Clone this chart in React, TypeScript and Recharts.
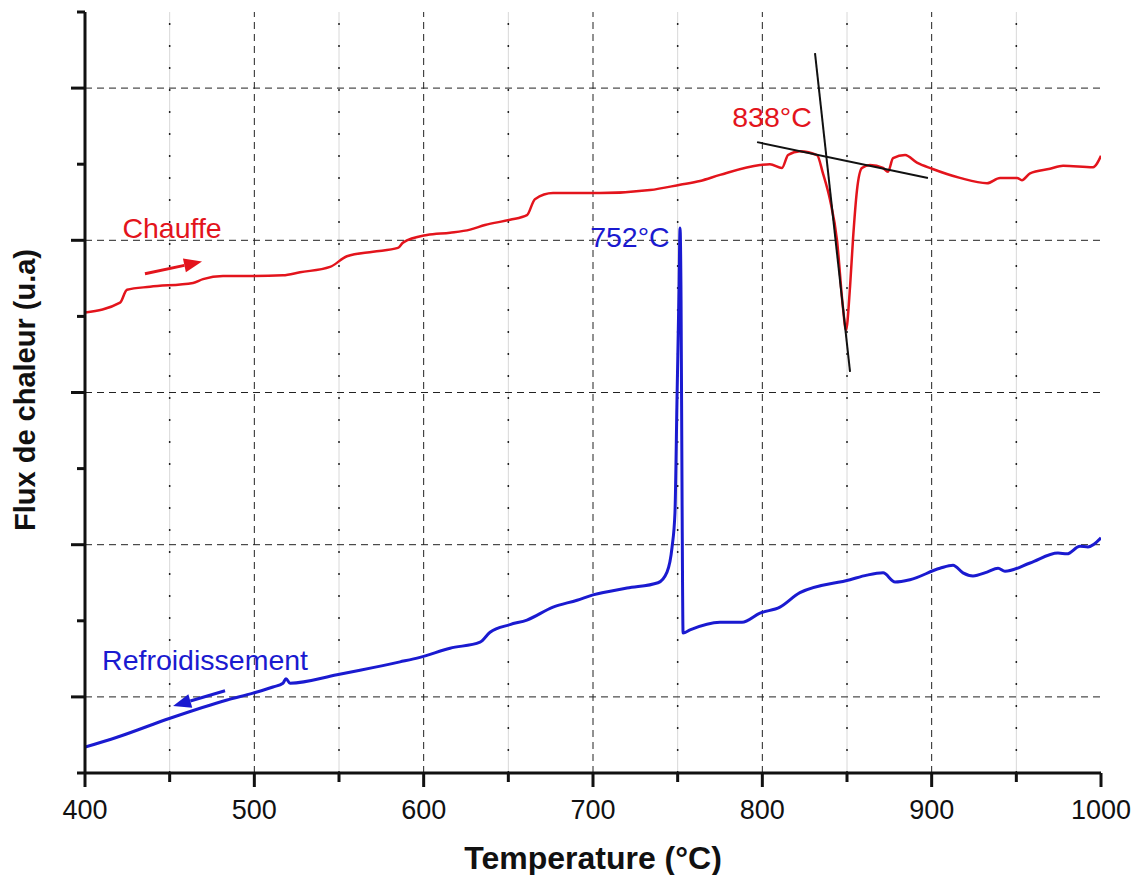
import { LineChart, Line, XAxis, YAxis, ReferenceLine, ReferenceDot } from 'recharts'

// heating run (Chauffe)
const heatT = [400, 420.7, 424.8, 438.4, 463.8, 469.7, 481.5, 497.4, 516.9, 527.0, 544.7, 554.7, 570.1, 584.8, 587.8, 602.0, 615.6, 627.4, 636.2, 651.0, 661.0, 665.7, 676.4, 704.1, 733.7, 751.4, 763.2, 775.0, 798.6, 804.5, 811.6, 815.2, 822.2, 832.3, 835.8, 840.0, 844.1, 847.6, 849.4, 851.8, 853.5, 855.9, 858.8, 863.6, 871.3, 874.2, 877.2, 884.3, 891.3, 900.2, 916.7, 932.7, 940.4, 950.4, 953.3, 958.1, 969.9, 977.6, 995.3, 1000]
const heatFlux = [6.05, 6.18, 6.35, 6.39, 6.44, 6.49, 6.53, 6.53, 6.54, 6.58, 6.65, 6.79, 6.85, 6.9, 6.97, 7.07, 7.1, 7.14, 7.2, 7.27, 7.33, 7.54, 7.62, 7.62, 7.66, 7.73, 7.78, 7.86, 7.99, 8.0, 7.95, 8.12, 8.17, 8.12, 7.88, 7.53, 7.0, 6.12, 5.82, 6.39, 7.0, 7.66, 7.95, 7.99, 7.95, 7.9, 8.08, 8.12, 8.02, 7.94, 7.82, 7.75, 7.82, 7.82, 7.79, 7.88, 7.94, 7.98, 7.96, 8.11]

// cooling run (Refroidissement)
const coolT = [400, 418.9, 450.2, 483.9, 499.2, 511.0, 516.9, 518.7, 521.1, 548.8, 562.4, 586.0, 597.8, 615.6, 633.3, 639.2, 651.0, 661.0, 676.4, 690.6, 700.0, 720.1, 738.4, 743.7, 746.7, 748.4, 749.6, 750.8, 751.4, 752.0, 752.6, 753.2, 757.3, 775.0, 788.0, 798.6, 810.4, 822.2, 851.8, 861.8, 871.3, 878.4, 887.2, 904.9, 912.6, 918.5, 924.4, 932.7, 939.2, 943.3, 958.1, 974.6, 979.9, 987.6, 992.3, 1000]
const coolFlux = [0.34, 0.47, 0.72, 0.96, 1.05, 1.13, 1.18, 1.24, 1.18, 1.29, 1.35, 1.46, 1.52, 1.64, 1.72, 1.85, 1.95, 2.01, 2.18, 2.27, 2.34, 2.43, 2.5, 2.64, 2.97, 3.42, 4.9, 6.35, 7.16, 6.22, 3.59, 1.84, 1.88, 1.98, 1.98, 2.1, 2.18, 2.37, 2.54, 2.6, 2.63, 2.51, 2.54, 2.69, 2.73, 2.63, 2.59, 2.64, 2.69, 2.65, 2.76, 2.89, 2.88, 2.98, 2.97, 3.09]

// onset construction at 838 °C
const tangentSteep = [{ x: 831.1, y: 9.46 }, { x: 851.8, y: 5.27 }]
const tangentBase = [{ x: 796.9, y: 8.29 }, { x: 897.8, y: 7.82 }]

const heatArrow = [{ x: 435.4, y: 6.56 }, { x: 469.1, y: 6.72 }]
const coolArrow = [{ x: 482.7, y: 1.08 }, { x: 452.0, y: 0.88 }]

const notes = [
  { x: 451.4, y: 7.03, text: 'Chauffe', color: '#e3141c' },
  { x: 805.7, y: 8.49, text: '838°C', color: '#e3141c' },
  { x: 721.8, y: 6.91, text: '752°C', color: '#1a1ad0' },
  { x: 470.9, y: 1.35, text: 'Refroidissement', color: '#1a1ad0' },
]

const xTicks = [400, 450, 500, 550, 600, 650, 700, 750, 800, 850, 900, 950, 1000]
const yTicks = [0, 1, 2, 3, 4, 5, 6, 7, 8, 9, 10]
const majorX = [500, 600, 700, 800, 900]
const minorX = [450, 550, 650, 750, 850, 950]
const majorY = [1, 3, 5, 7, 9]

const heating = heatT.map((t, i) => ({ t, v: heatFlux[i] }))
const cooling = coolT.map((t, i) => ({ t, v: coolFlux[i] }))

const RED = '#e3141c'
const BLUE = '#1a1ad0'
const FONT = '"Liberation Sans", Arial, sans-serif'

function XTick(props: any) {
  const { x, y, payload } = props
  const major = payload.value % 100 === 0
  return (
    <g>
      <line x1={x} y1={y} x2={x} y2={y + (major ? 14 : 9)} stroke="#111" strokeWidth={3} />
      {major && (
        <text x={x} y={y + 46} textAnchor="middle" fontSize={27} fill="#111" fontFamily={FONT}>
          {payload.value}
        </text>
      )}
    </g>
  )
}

function YTick(props: any) {
  const { x, y, payload } = props
  const major = payload.value % 2 === 1
  return <line x1={x} y1={y} x2={x - (major ? 14 : 8)} y2={y} stroke="#111" strokeWidth={3} />
}

function arrowShape(color: string) {
  return (p: any) => {
    const { x1, y1, x2, y2 } = p
    const ang = Math.atan2(y2 - y1, x2 - x1)
    const L = 18
    const W = 7
    const bx = x2 - L * Math.cos(ang)
    const by = y2 - L * Math.sin(ang)
    const nx = -Math.sin(ang) * W
    const ny = Math.cos(ang) * W
    return (
      <g>
        <line x1={x1} y1={y1} x2={bx} y2={by} stroke={color} strokeWidth={3} />
        <polygon points={`${x2},${y2} ${bx + nx},${by + ny} ${bx - nx},${by - ny}`} fill={color} />
      </g>
    )
  }
}

export default function App() {
  return (
    <div style={{ position: 'absolute', left: 0, top: 0, background: '#fff' }}>
      <LineChart width={1139} height={875} margin={{ top: 12, right: 38, bottom: 0, left: 0 }}>
        <XAxis
          dataKey="t"
          type="number"
          domain={[400, 1000]}
          ticks={xTicks}
          allowDataOverflow
          height={102}
          tickLine={false}
          tickSize={0}
          tickMargin={0}
          tick={<XTick />}
          axisLine={{ stroke: '#111', strokeWidth: 3 }}
          label={{
            content: (p: any) => (
              <text
                x={p.viewBox.x + p.viewBox.width / 2}
                y={p.viewBox.y + 96}
                textAnchor="middle"
                fontSize={32}
                fontWeight="bold"
                fill="#111"
                fontFamily={FONT}
              >
                Temperature (°C)
              </text>
            ),
          }}
        />
        <YAxis
          type="number"
          domain={[0, 10]}
          ticks={yTicks}
          width={85}
          tickLine={false}
          tickSize={0}
          tickMargin={0}
          tick={<YTick />}
          axisLine={{ stroke: '#111', strokeWidth: 3 }}
          label={{
            content: () => (
              <text
                x={35}
                y={390}
                transform="rotate(-90, 35, 390)"
                textAnchor="middle"
                fontSize={29}
                fontWeight="bold"
                fill="#111"
                fontFamily={FONT}
              >
                Flux de chaleur (u.a)
              </text>
            ),
          }}
        />

        {minorX.map((v) => (
          <ReferenceLine key={'mg' + v} x={v} stroke="#d8d8d8" strokeWidth={1} />
        ))}
        {minorX.map((v) => (
          <ReferenceLine key={'md' + v} x={v} stroke="#222" strokeWidth={1.5} strokeDasharray="2 20" />
        ))}
        {majorX.map((v) => (
          <ReferenceLine key={'gx' + v} x={v} stroke="#222" strokeWidth={1} strokeDasharray="7 5" />
        ))}
        {majorY.map((v) => (
          <ReferenceLine key={'gy' + v} y={v} stroke="#222" strokeWidth={1} strokeDasharray="7 5" />
        ))}

        <Line data={heating} dataKey="v" type="monotoneX" stroke={RED} strokeWidth={2.5} dot={false} isAnimationActive={false} />
        <Line data={cooling} dataKey="v" type="monotoneX" stroke={BLUE} strokeWidth={3} dot={false} isAnimationActive={false} />

        <ReferenceLine segment={tangentSteep} stroke="#111" strokeWidth={2} ifOverflow="visible" />
        <ReferenceLine segment={tangentBase} stroke="#111" strokeWidth={2} ifOverflow="visible" />

        <ReferenceLine segment={heatArrow} ifOverflow="visible" shape={arrowShape(RED)} />
        <ReferenceLine segment={coolArrow} ifOverflow="visible" shape={arrowShape(BLUE)} />

        {notes.map((n) => (
          <ReferenceDot
            key={n.text}
            x={n.x}
            y={n.y}
            r={0}
            ifOverflow="visible"
            shape={(p: any) => (
              <text x={p.cx} y={p.cy} textAnchor="middle" fontSize={28.5} fill={n.color} fontFamily={FONT}>
                {n.text}
              </text>
            )}
          />
        ))}
      </LineChart>
    </div>
  )
}
